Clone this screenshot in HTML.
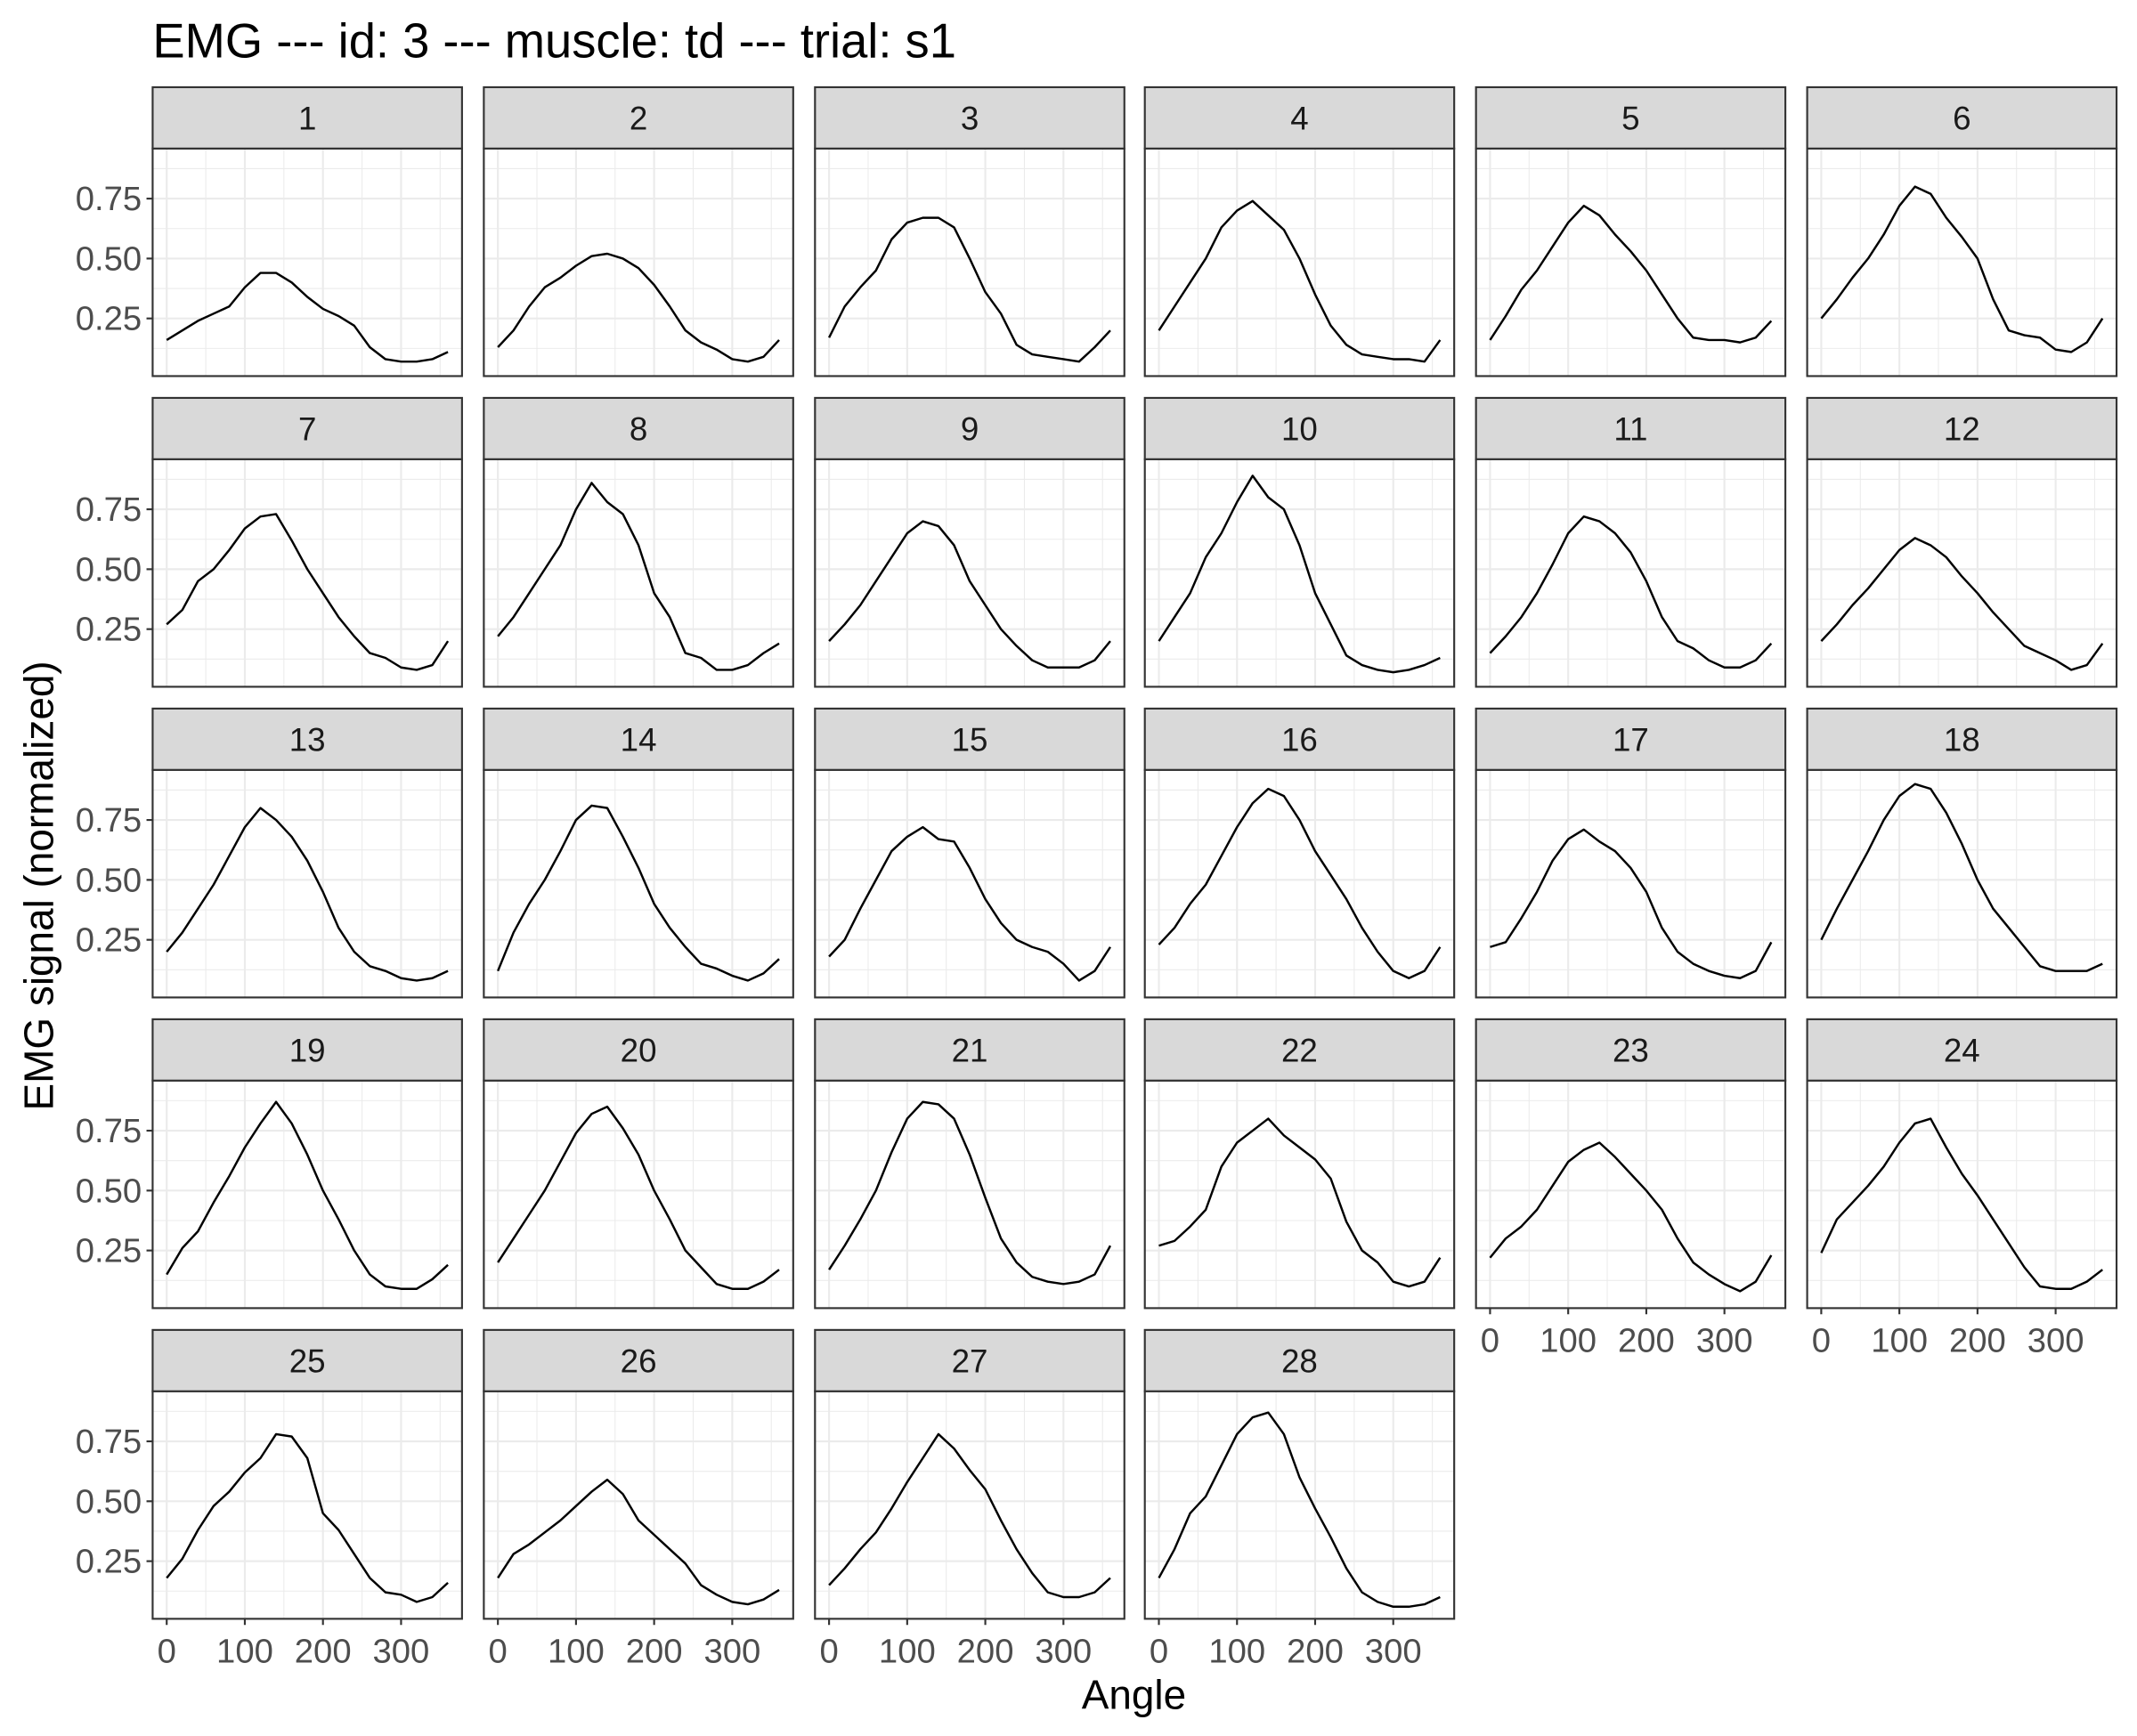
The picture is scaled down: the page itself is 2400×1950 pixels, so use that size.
<!DOCTYPE html>
<html><head><meta charset="utf-8"><style>
html,body{margin:0;padding:0;background:#fff;}
svg{display:block;font-family:"Liberation Sans",sans-serif;}
</style></head><body>
<svg id="chart" width="2400" height="1950" viewBox="0 0 1568 1274" xmlns="http://www.w3.org/2000/svg">
<rect width="1568" height="1274" fill="#fff"/>
<text x="112" y="42" font-size="35.5" fill="#000">EMG --- id: 3 --- muscle: td --- trial: s1</text>
<text x="832" y="1254" font-size="30" text-anchor="middle" fill="#000">Angle</text>
<text transform="translate(39,650) rotate(-90)" font-size="30" text-anchor="middle" fill="#000">EMG signal (normalized)</text>
<g id="panels"></g>
</svg>
<script>
const angles = [0,20,40,60,80,100,120,140,160,180,200,220,240,260,280,300,320,340,360];
const s1 = [0.16,0.2,0.24,0.27,0.3,0.38,0.44,0.44,0.40,0.34,0.29,0.26,0.22,0.13,0.08,0.07,0.07,0.08,0.11];
const s2 = [0.13,0.2,0.3,0.38,0.42,0.47,0.51,0.52,0.5,0.46,0.39,0.3,0.2,0.15,0.12,0.08,0.07,0.09,0.16];
const s3 = [0.17,0.3,0.38,0.45,0.58,0.65,0.67,0.67,0.63,0.5,0.36,0.27,0.14,0.1,0.09,0.08,0.07,0.13,0.2];
const s4 = [0.2,0.3,0.4,0.5,0.63,0.7,0.74,0.68,0.62,0.5,0.35,0.22,0.14,0.1,0.09,0.08,0.08,0.07,0.16];
const s5 = [0.16,0.26,0.37,0.45,0.55,0.65,0.72,0.68,0.6,0.53,0.45,0.35,0.25,0.17,0.16,0.16,0.15,0.17,0.24];
const s6 = [0.25,0.33,0.42,0.5,0.6,0.72,0.8,0.77,0.67,0.59,0.5,0.33,0.2,0.18,0.17,0.12,0.11,0.15,0.25];
const s7 = [0.27,0.33,0.45,0.5,0.58,0.67,0.72,0.73,0.62,0.5,0.4,0.3,0.22,0.15,0.13,0.09,0.08,0.1,0.2];
const s8 = [0.22,0.3,0.4,0.5,0.6,0.75,0.86,0.78,0.73,0.6,0.4,0.3,0.15,0.13,0.08,0.08,0.1,0.15,0.19];
const s9 = [0.2,0.27,0.35,0.45,0.55,0.65,0.7,0.68,0.6,0.45,0.35,0.25,0.18,0.12,0.09,0.09,0.09,0.12,0.2];
const s10 = [0.2,0.3,0.4,0.55,0.65,0.78,0.89,0.8,0.75,0.6,0.4,0.27,0.14,0.1,0.08,0.07,0.08,0.1,0.13];
const s11 = [0.15,0.22,0.3,0.4,0.52,0.65,0.72,0.7,0.65,0.57,0.45,0.3,0.2,0.17,0.12,0.09,0.09,0.12,0.19];
const s12 = [0.2,0.27,0.35,0.42,0.5,0.58,0.63,0.6,0.55,0.47,0.4,0.32,0.25,0.18,0.15,0.12,0.08,0.1,0.19];
const s13 = [0.2,0.28,0.38,0.48,0.6,0.72,0.8,0.75,0.68,0.58,0.45,0.3,0.2,0.14,0.12,0.09,0.08,0.09,0.12];
const s14 = [0.12,0.28,0.4,0.5,0.62,0.75,0.81,0.8,0.68,0.55,0.4,0.3,0.22,0.15,0.13,0.1,0.08,0.11,0.17];
const s15 = [0.18,0.25,0.38,0.5,0.62,0.68,0.72,0.67,0.66,0.55,0.42,0.32,0.25,0.22,0.2,0.15,0.08,0.12,0.22];
const s16 = [0.23,0.3,0.4,0.48,0.6,0.72,0.82,0.88,0.85,0.75,0.62,0.52,0.42,0.3,0.2,0.12,0.09,0.12,0.22];
const s17 = [0.22,0.24,0.34,0.45,0.58,0.67,0.71,0.66,0.62,0.55,0.45,0.3,0.2,0.15,0.12,0.1,0.09,0.12,0.24];
const s18 = [0.25,0.38,0.5,0.62,0.75,0.85,0.9,0.88,0.78,0.65,0.5,0.38,0.3,0.22,0.14,0.12,0.12,0.12,0.15];
const s19 = [0.15,0.26,0.33,0.45,0.56,0.68,0.78,0.87,0.78,0.65,0.5,0.38,0.25,0.15,0.1,0.09,0.09,0.13,0.19];
const s20 = [0.2,0.3,0.4,0.5,0.62,0.74,0.82,0.85,0.76,0.65,0.5,0.38,0.25,0.18,0.11,0.09,0.09,0.12,0.17];
const s21 = [0.17,0.27,0.38,0.5,0.66,0.8,0.87,0.86,0.8,0.65,0.47,0.3,0.2,0.14,0.12,0.11,0.12,0.15,0.27];
const s22 = [0.27,0.29,0.35,0.42,0.6,0.7,0.75,0.8,0.73,0.68,0.63,0.55,0.37,0.25,0.2,0.12,0.1,0.12,0.22];
const s23 = [0.22,0.3,0.35,0.42,0.52,0.62,0.67,0.7,0.64,0.57,0.5,0.42,0.3,0.2,0.15,0.11,0.08,0.12,0.23];
const s24 = [0.24,0.38,0.45,0.52,0.6,0.7,0.78,0.8,0.68,0.57,0.48,0.38,0.28,0.18,0.1,0.09,0.09,0.12,0.17];
const s25 = [0.18,0.26,0.38,0.48,0.54,0.62,0.68,0.78,0.77,0.68,0.45,0.38,0.28,0.18,0.12,0.11,0.08,0.1,0.16];
const s26 = [0.18,0.28,0.32,0.37,0.42,0.48,0.54,0.59,0.53,0.42,0.36,0.3,0.24,0.15,0.11,0.08,0.07,0.09,0.13];
const s27 = [0.15,0.22,0.3,0.37,0.47,0.58,0.68,0.78,0.72,0.63,0.55,0.42,0.3,0.2,0.12,0.1,0.1,0.12,0.18];
const s28 = [0.18,0.3,0.45,0.52,0.65,0.78,0.85,0.87,0.78,0.6,0.47,0.35,0.22,0.12,0.08,0.06,0.06,0.07,0.1];
const series = [s1,s2,s3,s4,s5,s6,s7,s8,s9,s10,s11,s12,s13,s14,s15,s16,s17,s18,s19,s20,s21,s22,s23,s24,s25,s26,s27,s28];
const yTicks = [0.25,0.5,0.75];
const yTickLabels = ["0.25","0.50","0.75"];
const xTicks = [0,100,200,300];
const xTickLabels = ["0","100","200","300"];

const NS = "http://www.w3.org/2000/svg";
const root = document.getElementById("panels");
const colX = [112,355,598,840,1083,1326], PW = 227;
const rowTop = [64,292,520,748,976], SH = 45, PH = 167;
const xDom = [-18,378], yDom = [0.0095,0.959];
function mk(tag, attrs, parent){ const e=document.createElementNS(NS,tag); for(const k in attrs) e.setAttribute(k,attrs[k]); parent.appendChild(e); return e; }

series.forEach((vals, i) => {
  const r = Math.floor(i/6), c = i%6;
  const x0 = colX[c], top = rowTop[r], y0 = top+SH, y1 = y0+PH;
  const sx = v => x0 + (v - xDom[0])/(xDom[1]-xDom[0])*PW;
  const sy = v => y1 - (v - yDom[0])/(yDom[1]-yDom[0])*PH;
  const g = mk("g", {}, root);
  
  
  mk("rect",{x:x0,y:y0,width:PW,height:PH,fill:"#fff"},g);
  [0.125,0.375,0.625,0.875].forEach(v=>mk("line",{x1:x0,x2:x0+PW,y1:sy(v),y2:sy(v),stroke:"#ebebeb","stroke-width":0.7},g));
  [50,150,250,350].forEach(v=>mk("line",{x1:sx(v),x2:sx(v),y1:y0,y2:y1,stroke:"#ebebeb","stroke-width":0.7},g));
  yTicks.forEach(v=>mk("line",{x1:x0,x2:x0+PW,y1:sy(v),y2:sy(v),stroke:"#ebebeb","stroke-width":1.4},g));
  xTicks.forEach(v=>mk("line",{x1:sx(v),x2:sx(v),y1:y0,y2:y1,stroke:"#ebebeb","stroke-width":1.4},g));
  const d = vals.map((v,j)=>(j?"L":"M")+sx(angles[j]).toFixed(2)+","+sy(v).toFixed(2)).join("");
  const line = mk("path",{d:d,fill:"none",stroke:"#000","stroke-width":1.6,"stroke-linejoin":"round"},g);
  
  
  mk("rect",{x:x0,y:y0,width:PW,height:PH,fill:"none",stroke:"#333","stroke-width":1.4},g);
  const strip = mk("rect",{x:x0,y:top,width:PW,height:SH,fill:"#d9d9d9",stroke:"#333","stroke-width":1.4},g);
  
  
  const st = mk("text",{x:x0+PW/2,y:top+SH/2+8.5,"font-size":24,"text-anchor":"middle",fill:"#1a1a1a"},g);
  st.textContent = String(i+1);
  
  
  if (c === 0) {
    yTicks.forEach((v,k)=>{
      mk("line",{x1:x0-4.5,x2:x0,y1:sy(v),y2:sy(v),stroke:"#333","stroke-width":1.4},g);
      const t = mk("text",{x:x0-8,y:sy(v)+8.5,"font-size":25,"text-anchor":"end",fill:"#4d4d4d"},g);
      t.textContent = yTickLabels[k];
      
      
    });
  }
  const bottom = (i+6 >= series.length);
  if (bottom) {
    xTicks.forEach((v,k)=>{
      mk("line",{x1:sx(v),x2:sx(v),y1:y1,y2:y1+4.5,stroke:"#333","stroke-width":1.4},g);
      const t = mk("text",{x:sx(v),y:y1+32,"font-size":25,"text-anchor":"middle",fill:"#4d4d4d"},g);
      t.textContent = xTickLabels[k];
      
      
    });
  }
});
</script>
</body></html>
